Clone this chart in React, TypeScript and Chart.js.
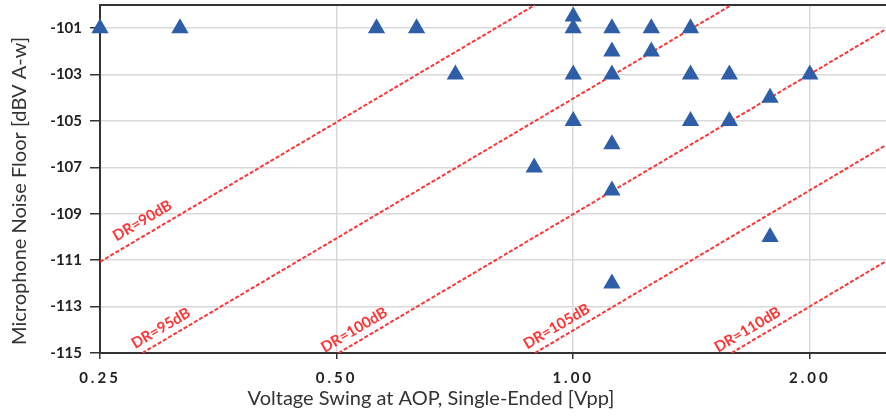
import { useEffect, useRef } from 'react';
import { Chart, registerables } from 'chart.js';

Chart.register(...registerables);

// Measured devices: voltage swing at AOP (Vpp) and noise floor (dBV A-w)
const swingVpp = [0.25, 0.316, 0.562, 0.632, 0.708, 1.0, 1.0, 1.0, 1.0, 0.892, 1.12, 1.12, 1.12, 1.12, 1.12, 1.12, 1.257, 1.257, 1.41, 1.41, 1.41, 1.58, 1.58, 1.78, 2.0, 1.78];
const noiseFloor = [-101, -101, -101, -101, -103, -100.5, -101, -103, -105, -107, -101, -102, -103, -106, -108, -112, -101, -102, -101, -103, -105, -103, -105, -104, -103, -110];

// Dynamic-range reference lines (endpoints)
const drLabels = ['DR=90dB', 'DR=95dB', 'DR=100dB', 'DR=105dB', 'DR=110dB'];
const drStartX = [0.25, 0.283, 0.503, 0.894, 1.59];
const drStartY = [-111.07, -115, -115, -115, -115];
const drEndX = [0.894, 1.59, 2.5, 2.5, 2.5];
const drEndY = [-100, -100, -101.04, -106.04, -111.04];
const drLabelAnchorX = [0.266, 0.28, 0.488, 0.883, 1.545];

const xTicks = [0.25, 0.5, 1, 2];
const yTicks = [-115, -113, -111, -109, -107, -105, -103, -101];

const xTitle = 'Voltage Swing at AOP, Single-Ended [Vpp]';
const yTitle = 'Microphone Noise Floor [dBV A-w]';

const RED = '#ff3434';
const BLUE = '#2f5ea9';
const AXIS = '#333333';

export default function App() {
  const ref = useRef<HTMLCanvasElement | null>(null);

  useEffect(() => {
    const canvas = ref.current;
    if (!canvas) return;

    const drDatasets = drLabels.map((lbl, i) => ({
      type: 'line' as const,
      label: lbl,
      data: [
        { x: drStartX[i], y: drStartY[i] },
        { x: drEndX[i], y: drEndY[i] },
      ],
      borderColor: RED,
      borderWidth: 2,
      borderDash: [4, 2],
      pointRadius: 0,
      showLine: true,
      fill: false,
    }));

    const overlay = {
      id: 'overlay',
      beforeDraw(chart: any) {
        chart.ctx.letterSpacing = '3px';
      },
      beforeDatasetsDraw(chart: any) {
        chart.ctx.letterSpacing = '0px';
        const { ctx, chartArea } = chart;
        ctx.save();
        ctx.strokeStyle = AXIS;
        ctx.lineWidth = 2;
        ctx.beginPath();
        ctx.moveTo(chartArea.left, chartArea.top);
        ctx.lineTo(chartArea.right, chartArea.top);
        ctx.stroke();
        ctx.restore();
      },
      afterDatasetsDraw(chart: any) {
        const ctx = chart.ctx;
        const xs = chart.scales.x;
        ctx.save();
        ctx.fillStyle = RED;
        ctx.font = 'bold 15px Lato';
        ctx.textAlign = 'left';
        ctx.textBaseline = 'alphabetic';
        drLabels.forEach((lbl, i) => {
          const meta = chart.getDatasetMeta(i + 1);
          const p0 = meta.data[0];
          const p1 = meta.data[1];
          const ang = Math.atan2(p1.y - p0.y, p1.x - p0.x);
          const ax = xs.getPixelForValue(drLabelAnchorX[i]);
          const ay = p0.y + ((ax - p0.x) * (p1.y - p0.y)) / (p1.x - p0.x);
          ctx.save();
          ctx.translate(ax, ay);
          ctx.rotate(ang);
          ctx.fillText(lbl, 0, i === 0 ? -9 : -7);
          ctx.restore();
        });
        ctx.restore();
      },
      afterDraw(chart: any) {
        const ctx = chart.ctx;
        ctx.save();
        ctx.letterSpacing = '0px';
        ctx.fillStyle = AXIS;
        ctx.font = '20px Lato';
        ctx.textAlign = 'center';
        ctx.textBaseline = 'middle';
        ctx.fillText(xTitle, 431, 399);
        ctx.translate(20, 191);
        ctx.rotate(-Math.PI / 2);
        ctx.fillText(yTitle, 0, 0);
        ctx.restore();
      },
    };

    const chart = new Chart(canvas, {
      type: 'scatter',
      data: {
        datasets: [
          {
            type: 'scatter',
            label: 'Microphones',
            data: swingVpp.map((x, i) => ({ x, y: noiseFloor[i] })),
            pointStyle: 'triangle',
            pointRadius: 10,
            pointHoverRadius: 10,
            backgroundColor: BLUE,
            borderColor: BLUE,
            borderWidth: 0,
            clip: false as any,
          },
          ...drDatasets,
        ] as any,
      },
      options: {
        animation: false,
        responsive: false,
        maintainAspectRatio: false,
        layout: { autoPadding: false, padding: { top: 5, right: 0, left: 0, bottom: 0 } },
        plugins: {
          legend: { display: false },
          tooltip: { enabled: false },
        },
        scales: {
          x: {
            type: 'logarithmic',
            bounds: 'data',
            min: 0.25,
            max: 2.5,
            afterBuildTicks: (scale: any) => {
              scale.ticks = xTicks.map((v) => ({ value: v }));
            },
            afterFit: (scale: any) => {
              scale.height = 67;
              scale.paddingLeft = 0;
              scale.paddingRight = 0;
              scale.paddingTop = 0;
              scale.paddingBottom = 0;
            },
            ticks: {
              callback: (v: any) => Number(v).toFixed(2),
              color: '#222',
              font: { family: 'Lato', size: 15, weight: 'bold' },
              padding: 10,
              autoSkip: false,
              maxRotation: 0,
            },
            grid: {
              color: '#d9d9d9',
              lineWidth: 1.5,
              tickLength: 6,
              tickColor: AXIS,
              tickWidth: 1.5,
            },
            border: { color: AXIS, width: 2 },
          },
          y: {
            type: 'linear',
            bounds: 'data',
            min: -115,
            max: -100,
            afterBuildTicks: (scale: any) => {
              scale.ticks = yTicks.map((v) => ({ value: v }));
            },
            afterFit: (scale: any) => {
              scale.width = 100;
              scale.paddingLeft = 0;
              scale.paddingRight = 0;
              scale.paddingTop = 0;
              scale.paddingBottom = 0;
            },
            ticks: {
              color: '#222',
              font: { family: 'Lato', size: 15, weight: 'bold' },
              padding: 8,
              z: 1,
            },
            grid: {
              color: '#d9d9d9',
              lineWidth: 1.5,
              tickLength: 10,
              tickColor: AXIS,
              tickWidth: 1.5,
            },
            border: { color: AXIS, width: 2 },
          },
        },
      },
      plugins: [overlay],
    } as any);

    return () => chart.destroy();
  }, []);

  return (
    <div style={{ position: 'absolute', left: 0, top: 0, width: 886, height: 420, background: '#fff' }}>
      <canvas ref={ref} width={886} height={420} style={{ display: 'block', width: 886, height: 420 }} />
    </div>
  );
}
